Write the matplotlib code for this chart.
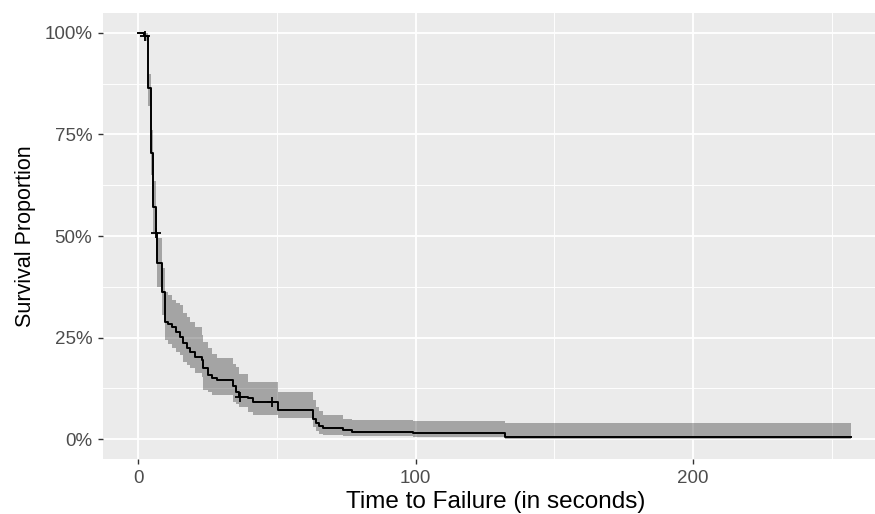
import matplotlib.pyplot as plt
from matplotlib.ticker import MultipleLocator, PercentFormatter

# Kaplan-Meier estimate (step values start at each time)
times = [0, 2.0, 3.5, 4.5, 5.4, 6.4, 6.6, 8.6, 9.6, 10.5, 12.0, 13.5, 15.0, 16.2,
         17.5, 18.7, 20.5, 22.8, 23.4, 25.2, 26.4, 28.2, 34.2, 35.2, 36.3, 39.6,
         41.4, 50.5, 63.1, 64.2, 65.3, 66.4, 73.9, 76.9, 99.1, 132.2, 257.0]
surv = [1.0, 0.993, 0.865, 0.705, 0.572, 0.507, 0.433, 0.363, 0.289, 0.283, 0.277,
        0.264, 0.252, 0.236, 0.225, 0.215, 0.203, 0.195, 0.174, 0.158, 0.150, 0.145,
        0.130, 0.117, 0.104, 0.100, 0.092, 0.071, 0.050, 0.040, 0.033, 0.026, 0.022,
        0.0165, 0.014, 0.0057, 0.0057]
upper = [1.0, 1.0, 0.90, 0.76, 0.635, 0.57, 0.495, 0.42, 0.363, 0.355, 0.342, 0.335,
         0.33, 0.31, 0.30, 0.289, 0.275, 0.256, 0.24, 0.224, 0.21, 0.199, 0.185, 0.178,
         0.16, 0.141, 0.141, 0.117, 0.096, 0.08, 0.07, 0.059, 0.0485, 0.048, 0.045,
         0.0387, 0.0387]
lower = [1.0, 0.98, 0.82, 0.65, 0.51, 0.45, 0.375, 0.305, 0.244, 0.235, 0.223, 0.215,
         0.207, 0.19, 0.182, 0.174, 0.163, 0.153, 0.121, 0.115, 0.108, 0.108, 0.092,
         0.085, 0.08, 0.067, 0.06, 0.051, 0.03, 0.02, 0.012, 0.009, 0.008, 0.0074,
         0.005, 0.001, 0.001]

# censored observations
cens_t = [2.4, 6.4, 36.6, 48.1]
cens_s = [0.993, 0.507, 0.104, 0.092]

plt.rcParams['font.family'] = ['Liberation Sans', 'DejaVu Sans']

fig = plt.figure(figsize=(8.75, 5.14), dpi=100)
# panel runs past the right edge (the original image is cropped there)
ax = fig.add_axes([0.1173, 0.1064, 0.8978, 0.8689])
ax.set_facecolor('#EBEBEB')
for s in ax.spines.values():
    s.set_visible(False)

ax.fill_between(times, lower, upper, step='post', color='black', alpha=0.3, lw=0)
ax.step(times, surv, where='post', color='black', lw=1.4)
ax.plot(cens_t, cens_s, '+', color='black', ms=7, mew=1.3)

ax.set_xlim(-12.9, 270.4)
ax.set_ylim(-0.05, 1.05)
ax.xaxis.set_major_locator(MultipleLocator(100))
ax.xaxis.set_minor_locator(MultipleLocator(50))
ax.yaxis.set_major_locator(MultipleLocator(0.25))
ax.yaxis.set_minor_locator(MultipleLocator(0.125))
ax.yaxis.set_major_formatter(PercentFormatter(1.0, decimals=0))

ax.grid(which='major', color='white', lw=1.3)
ax.grid(which='minor', color='white', lw=0.65)
ax.set_axisbelow(True)
ax.tick_params(which='major', length=3.5, width=1, color='#333333',
               labelcolor='#4D4D4D', labelsize=13.5, pad=4)
ax.tick_params(which='minor', length=0)

ax.set_xlabel('Time to Failure (in seconds)', fontsize=17.5)
ax.set_ylabel('Survival Proportion', fontsize=15.5)
ax.xaxis.set_label_coords(0.5, -0.071)
ax.yaxis.set_label_coords(-0.085, 0.5)

fig.savefig('out.png', dpi=100)
